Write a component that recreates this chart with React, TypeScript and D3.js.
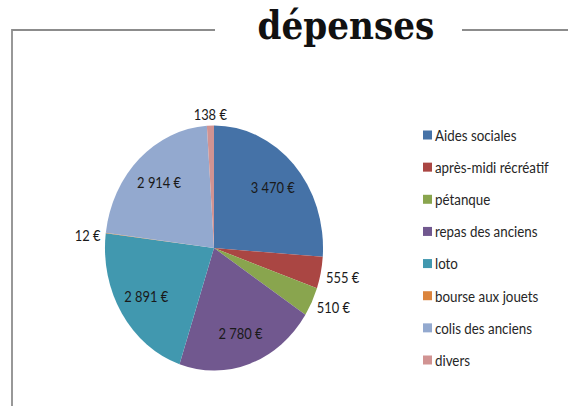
import React, { useEffect, useRef } from "react";
import * as d3 from "d3";

const categories = [
  "Aides sociales",
  "après-midi récréatif",
  "pétanque",
  "repas des anciens",
  "loto",
  "bourse aux jouets",
  "colis des anciens",
  "divers",
];
const values = [3470, 555, 510, 2780, 2891, 12, 2914, 138];
const colors = ["#4572A7", "#AA4643", "#89A54E", "#71588F", "#4198AF", "#DB843D", "#93A9CF", "#D19392"];
const title = "dépenses";

const fmt = (v: number) => d3.format(",")(v).replace(/,/g, " ") + " €";

const App = () => {
  const svgRef = useRef<SVGSVGElement>(null);

  useEffect(() => {
    const svg = d3.select(svgRef.current);
    const width = 568;
    const height = 406;
    const sx = 0.89; // the picture is squeezed horizontally
    svg.selectAll("*").remove();

    const g = svg.append("g").attr("transform", `scale(${sx},1)`);

    // frame with the title gap
    const line = "#8c8c8c";
    g.append("path")
      .attr("d", `M${12 / sx},${height} V30 H${215 / sx} M${462 / sx},30 H${width / sx}`)
      .attr("fill", "none")
      .attr("stroke", line)
      .attr("stroke-width", 2);

    g.append("text")
      .attr("x", 346 / sx)
      .attr("y", 39)
      .attr("text-anchor", "middle")
      .attr("font-family", "DejaVu Serif")
      .attr("font-weight", "bold")
      .attr("font-size", 38.5)
      .attr("fill", "#111")
      .text(title);

    // pie
    const cx = 214 / sx;
    const cy = 248;
    const R = 122.5;
    const total = d3.sum(values);

    const pie = d3.pie<number>().sort(null).value(d => d);
    const arcs = pie(values);
    const arc = d3.arc<d3.PieArcDatum<number>>().innerRadius(0).outerRadius(R);
    const inner = d3.arc<d3.PieArcDatum<number>>().innerRadius(90).outerRadius(90);

    const pg = g.append("g").attr("transform", `translate(${cx},${cy})`);
    pg.selectAll("path")
      .data(arcs)
      .join("path")
      .attr("d", arc)
      .attr("fill", (_, i) => colors[i]);

    const font = "Lato, 'Open Sans', sans-serif";
    arcs.forEach((a) => {
      const mid = (a.startAngle + a.endAngle) / 2;
      const t = pg.append("text")
        .attr("font-family", font)
        .attr("font-size", 14.5)
        .attr("fill", "#1a1a1a")
        .text(fmt(a.data));
      if (a.data / total > 0.05) {
        const [x, y] = inner.centroid(a);
        t.attr("x", x).attr("y", y).attr("text-anchor", "middle").attr("dominant-baseline", "central");
      } else {
        const r = R + 6;
        const x = r * Math.sin(mid);
        const y = -r * Math.cos(mid);
        const s = Math.sin(mid);
        const c = Math.cos(mid);
        t.attr("x", x).attr("y", y + (Math.abs(s) > 0.3 ? 3 : 0))
          .attr("text-anchor", Math.abs(s) < 0.3 ? "middle" : s > 0 ? "start" : "end")
          .attr("dominant-baseline", c > 0.7 ? "auto" : c < -0.7 ? "hanging" : "central");
      }
    });

    // legend
    const ly = d3.scalePoint<string>().domain(categories).range([135, 360]);
    const lg = g.append("g");
    lg.selectAll("rect")
      .data(categories)
      .join("rect")
      .attr("x", 423 / sx)
      .attr("y", d => (ly(d) as number) - 4.5)
      .attr("width", 9 / sx)
      .attr("height", 9)
      .attr("fill", (_, i) => colors[i]);
    lg.selectAll("text")
      .data(categories)
      .join("text")
      .attr("x", 435 / sx)
      .attr("y", d => ly(d) as number)
      .attr("dominant-baseline", "central")
      .attr("font-family", font)
      .attr("font-size", 15)
      .attr("fill", "#262626")
      .text(d => d);
  }, []);

  return (
    <svg
      ref={svgRef}
      width={568}
      height={406}
      style={{ position: "absolute", left: 0, top: 0, background: "#fff" }}
    />
  );
};

export default App;
